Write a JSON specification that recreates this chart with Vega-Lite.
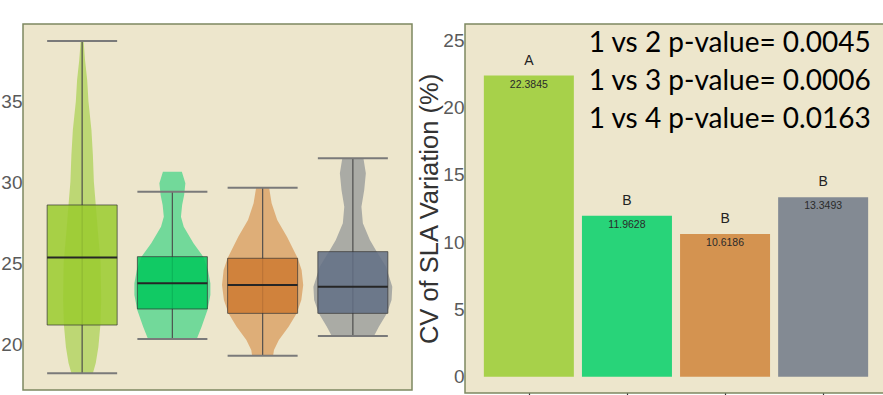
{
  "$schema": "https://vega.github.io/schema/vega-lite/v6.json",
  "background": "white",
  "padding": {"left": 0, "top": 23, "right": 0, "bottom": 0},
  "autosize": {"type": "pad"},
  "config": {
    "view": {"fill": "#EDE6CC", "stroke": "#7D8860", "strokeWidth": 1.5},
    "axis": {"grid": false, "domain": false, "labelFont": "Liberation Sans", "labelFontSize": 19, "labelColor": "#5a5a5a", "titleFont": "Liberation Sans"}
  },
  "resolve": {"scale": {"color": "independent", "fill": "independent"}},
  "spacing": 53,
  "bounds": "flush",
  "datasets": {
    "violin": [
      {"g": 1, "y": 38.72, "lo": 0.984, "hi": 1.016},
      {"g": 1, "y": 37.55, "lo": 0.968, "hi": 1.032},
      {"g": 1, "y": 36.31, "lo": 0.944, "hi": 1.056},
      {"g": 1, "y": 34.98, "lo": 0.930, "hi": 1.070},
      {"g": 1, "y": 33.23, "lo": 0.897, "hi": 1.103},
      {"g": 1, "y": 31.69, "lo": 0.881, "hi": 1.119},
      {"g": 1, "y": 30.04, "lo": 0.870, "hi": 1.130},
      {"g": 1, "y": 28.6, "lo": 0.849, "hi": 1.151},
      {"g": 1, "y": 27.06, "lo": 0.827, "hi": 1.173},
      {"g": 1, "y": 25.02, "lo": 0.795, "hi": 1.205},
      {"g": 1, "y": 22.73, "lo": 0.789, "hi": 1.211},
      {"g": 1, "y": 21.19, "lo": 0.798, "hi": 1.202},
      {"g": 1, "y": 19.83, "lo": 0.820, "hi": 1.180},
      {"g": 1, "y": 18.85, "lo": 0.849, "hi": 1.151},
      {"g": 1, "y": 18.21, "lo": 0.881, "hi": 1.119},
      {"g": 2, "y": 30.65, "lo": 1.895, "hi": 2.105},
      {"g": 2, "y": 29.94, "lo": 1.856, "hi": 2.144},
      {"g": 2, "y": 29.2, "lo": 1.870, "hi": 2.130},
      {"g": 2, "y": 28.6, "lo": 1.892, "hi": 2.108},
      {"g": 2, "y": 27.88, "lo": 1.905, "hi": 2.095},
      {"g": 2, "y": 27.26, "lo": 1.874, "hi": 2.126},
      {"g": 2, "y": 26.23, "lo": 1.766, "hi": 2.234},
      {"g": 2, "y": 25.41, "lo": 1.658, "hi": 2.342},
      {"g": 2, "y": 24.59, "lo": 1.606, "hi": 2.394},
      {"g": 2, "y": 23.77, "lo": 1.579, "hi": 2.421},
      {"g": 2, "y": 23.04, "lo": 1.579, "hi": 2.421},
      {"g": 2, "y": 22.12, "lo": 1.611, "hi": 2.389},
      {"g": 2, "y": 21.09, "lo": 1.676, "hi": 2.324},
      {"g": 2, "y": 20.33, "lo": 1.730, "hi": 2.270},
      {"g": 3, "y": 29.67, "lo": 2.928, "hi": 3.072},
      {"g": 3, "y": 28.7, "lo": 2.900, "hi": 3.100},
      {"g": 3, "y": 27.67, "lo": 2.838, "hi": 3.162},
      {"g": 3, "y": 26.64, "lo": 2.730, "hi": 3.270},
      {"g": 3, "y": 25.31, "lo": 2.611, "hi": 3.389},
      {"g": 3, "y": 24.59, "lo": 2.568, "hi": 3.432},
      {"g": 3, "y": 23.66, "lo": 2.550, "hi": 3.450},
      {"g": 3, "y": 22.73, "lo": 2.571, "hi": 3.429},
      {"g": 3, "y": 21.91, "lo": 2.622, "hi": 3.378},
      {"g": 3, "y": 21.09, "lo": 2.712, "hi": 3.288},
      {"g": 3, "y": 20.27, "lo": 2.820, "hi": 3.180},
      {"g": 3, "y": 19.65, "lo": 2.874, "hi": 3.126},
      {"g": 3, "y": 19.30, "lo": 2.884, "hi": 3.116},
      {"g": 4, "y": 31.48, "lo": 3.883, "hi": 4.117},
      {"g": 4, "y": 30.56, "lo": 3.856, "hi": 4.144},
      {"g": 4, "y": 29.52, "lo": 3.874, "hi": 4.126},
      {"g": 4, "y": 28.49, "lo": 3.905, "hi": 4.095},
      {"g": 4, "y": 27.47, "lo": 3.889, "hi": 4.111},
      {"g": 4, "y": 26.44, "lo": 3.811, "hi": 4.189},
      {"g": 4, "y": 25.72, "lo": 3.735, "hi": 4.265},
      {"g": 4, "y": 24.79, "lo": 3.633, "hi": 4.367},
      {"g": 4, "y": 23.56, "lo": 3.563, "hi": 4.437},
      {"g": 4, "y": 22.73, "lo": 3.571, "hi": 4.429},
      {"g": 4, "y": 21.91, "lo": 3.622, "hi": 4.378},
      {"g": 4, "y": 21.09, "lo": 3.712, "hi": 4.288},
      {"g": 4, "y": 20.51, "lo": 3.766, "hi": 4.234}
    ],
    "box": [
      {"g": 1, "min": 18.21, "q1": 21.19, "med": 25.36, "q3": 28.6, "max": 38.72},
      {"g": 2, "min": 20.33, "q1": 22.18, "med": 23.77, "q3": 25.41, "max": 29.42},
      {"g": 3, "min": 19.30, "q1": 21.91, "med": 23.66, "q3": 25.31, "max": 29.67},
      {"g": 4, "min": 20.51, "q1": 21.91, "med": 23.56, "q3": 25.72, "max": 31.48}
    ],
    "cv": [
      {"g": 1, "cv": 22.3845, "letter": "A"},
      {"g": 2, "cv": 11.9628, "letter": "B"},
      {"g": 3, "cv": 10.6186, "letter": "B"},
      {"g": 4, "cv": 13.3493, "letter": "B"}
    ],
    "notes": [
      {"note": "1 vs 2 p-value= 0.0045", "nx": 1.61, "ny": 24.11},
      {"note": "1 vs 3 p-value= 0.0006", "nx": 1.61, "ny": 21.34},
      {"note": "1 vs 4 p-value= 0.0163", "nx": 1.61, "ny": 18.49}
    ]
  },
  "hconcat": [
    {
      "width": 389,
      "height": 366,
      "layer": [
        {
          "data": {"name": "violin"},
          "mark": {"type": "area", "orient": "horizontal", "opacity": 1},
          "encoding": {
            "y": {"field": "y", "type": "quantitative", "scale": {"domain": [17.18, 39.77], "nice": false, "zero": false}, "axis": {"values": [20, 25, 30, 35], "ticks": false, "labelPadding": 1, "title": null}},
            "x": {"field": "lo", "type": "quantitative", "stack": null, "scale": {"domain": [0.4, 4.6], "nice": false, "zero": false}, "axis": {"values": [1, 2, 3, 4], "format": "d", "ticks": false, "labelPadding": 3, "labelColor": "#333", "title": null}},
            "x2": {"field": "hi"},
            "fill": {"field": "g", "type": "nominal", "scale": {"domain": [1, 2, 3, 4], "range": ["#BDD774", "#72D99A", "#DEAE78", "#AAABA5"]}, "legend": null}
          }
        },
        {
          "data": {"name": "box"},
          "mark": {"type": "rule", "color": "#4a4a4a", "strokeWidth": 1.3, "opacity": 0.9},
          "encoding": {
            "x": {"field": "g", "type": "quantitative", "title": null},
            "y": {"field": "min", "type": "quantitative", "title": null},
            "y2": {"field": "max"}
          }
        },
        {
          "data": {"name": "box"},
          "mark": {"type": "bar", "size": 70, "fillOpacity": 0.85, "opacity": 1, "stroke": "#333333", "strokeWidth": 1, "strokeOpacity": 0.7},
          "encoding": {
            "x": {"field": "g", "type": "quantitative", "title": null},
            "y": {"field": "q1", "type": "quantitative", "title": null},
            "y2": {"field": "q3"},
            "color": {"field": "g", "type": "nominal", "scale": {"domain": [1, 2, 3, 4], "range": ["#9ACB2E", "#00C75A", "#CE7A31", "#616E85"]}, "legend": null}
          }
        },
        {
          "data": {"name": "box"},
          "mark": {"type": "tick", "orient": "horizontal", "size": 70, "thickness": 2, "color": "#262626", "opacity": 1},
          "encoding": {
            "x": {"field": "g", "type": "quantitative", "title": null},
            "y": {"field": "med", "type": "quantitative", "title": null}
          }
        },
        {
          "data": {"name": "box"},
          "mark": {"type": "tick", "orient": "horizontal", "size": 70, "thickness": 2, "color": "#7a7a7a", "opacity": 1},
          "encoding": {
            "x": {"field": "g", "type": "quantitative", "title": null},
            "y": {"field": "min", "type": "quantitative", "title": null}
          }
        },
        {
          "data": {"name": "box"},
          "mark": {"type": "tick", "orient": "horizontal", "size": 70, "thickness": 2, "color": "#7a7a7a", "opacity": 1},
          "encoding": {
            "x": {"field": "g", "type": "quantitative", "title": null},
            "y": {"field": "max", "type": "quantitative", "title": null}
          }
        }
      ]
    },
    {
      "width": 422,
      "height": 369,
      "layer": [
        {
          "data": {"name": "cv"},
          "mark": {"type": "bar", "size": 90, "opacity": 1},
          "encoding": {
            "x": {"field": "g", "type": "quantitative", "scale": {"domain": [0.4, 4.6], "nice": false, "zero": false}, "axis": {"values": [1, 2, 3, 4], "format": "d", "ticks": true, "tickSize": 4, "tickColor": "#333", "tickWidth": 1.2, "labelPadding": 2, "labelColor": "#333", "title": null}},
            "y": {"field": "cv", "type": "quantitative", "title": "CV of SLA Variation (%)", "scale": {"domain": [-1.21, 26.22], "nice": false, "zero": false}, "axis": {"values": [0, 5, 10, 15, 20, 25], "ticks": false, "labelPadding": 1, "titleFontSize": 25.5, "titleColor": "#333", "titleFontWeight": "normal", "titlePadding": 0}},
            "y2": {"datum": 0},
            "color": {"field": "g", "type": "nominal", "scale": {"domain": [1, 2, 3, 4], "range": ["#A7D14A", "#28D479", "#D49350", "#838A93"]}, "legend": null}
          }
        },
        {
          "data": {"name": "cv"},
          "mark": {"type": "text", "dy": -15, "baseline": "middle", "fontSize": 14, "font": "Liberation Sans", "color": "#222"},
          "encoding": {
            "x": {"field": "g", "type": "quantitative", "title": null},
            "y": {"field": "cv", "type": "quantitative", "title": "CV of SLA Variation (%)"},
            "text": {"field": "letter"}
          }
        },
        {
          "data": {"name": "cv"},
          "mark": {"type": "text", "dy": 9, "baseline": "middle", "fontSize": 10.5, "font": "Liberation Sans", "color": "#2a2a2a"},
          "encoding": {
            "x": {"field": "g", "type": "quantitative", "title": null},
            "y": {"field": "cv", "type": "quantitative", "title": "CV of SLA Variation (%)"},
            "text": {"field": "cv", "type": "quantitative", "format": ".4f"}
          }
        },
        {
          "data": {"name": "notes"},
          "mark": {"type": "text", "align": "left", "baseline": "alphabetic", "fontSize": 28, "font": "Lato", "color": "#000000"},
          "encoding": {
            "x": {"field": "nx", "type": "quantitative", "title": null},
            "y": {"field": "ny", "type": "quantitative", "title": "CV of SLA Variation (%)"},
            "text": {"field": "note"}
          }
        }
      ]
    }
  ]
}
